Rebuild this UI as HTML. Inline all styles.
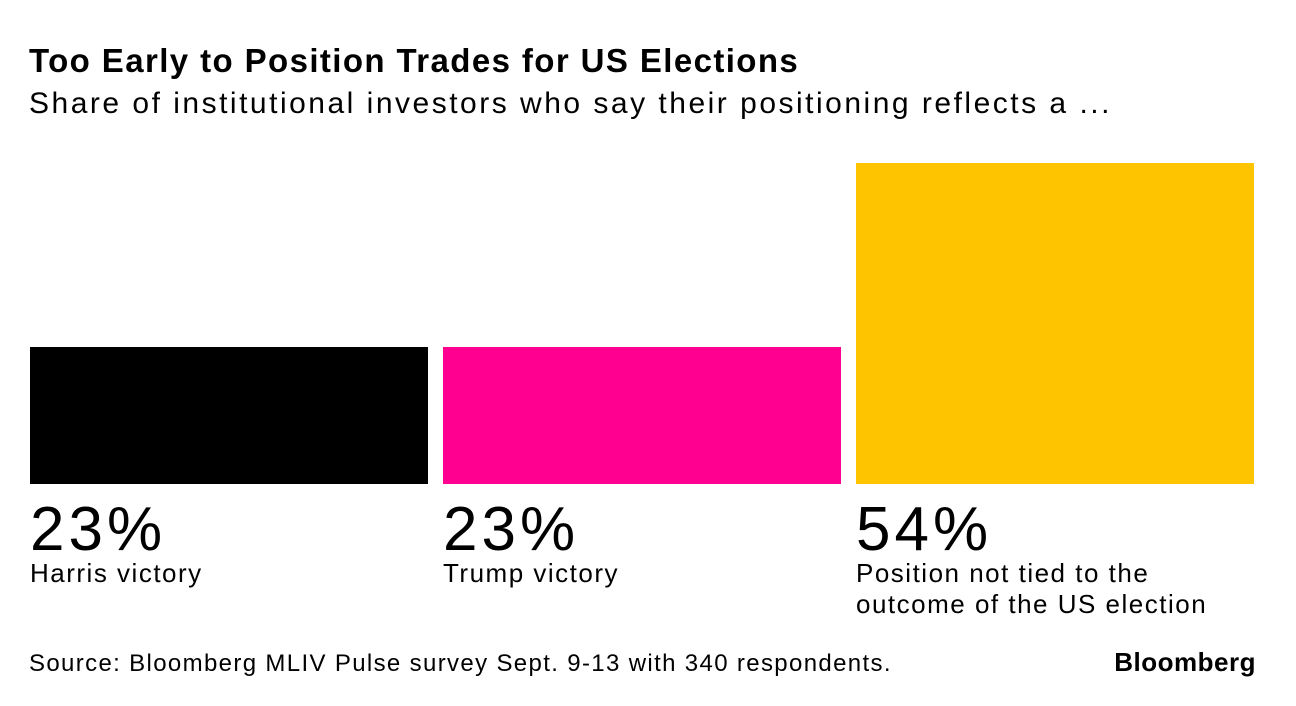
<!DOCTYPE html>
<html><head><meta charset="utf-8"><style>
html,body{margin:0;padding:0;background:#fff;}
body{width:1296px;height:706px;position:relative;overflow:hidden;font-family:"Liberation Sans",sans-serif;color:#000;}
.t{position:absolute;white-space:nowrap;}
</style></head><body>
<div class="t" style="left:29px;top:42px;font-size:33px;font-weight:bold;letter-spacing:1.4px;">Too Early to Position Trades for US Elections</div>
<div class="t" style="left:29px;top:87px;font-size:30px;letter-spacing:2.5px;">Share of institutional investors who say their positioning reflects a ...</div>
<div id="chart"></div>
<div class="t" style="left:29px;top:650px;font-size:24px;letter-spacing:1.35px;">Source: Bloomberg MLIV Pulse survey Sept. 9-13 with 340 respondents.</div>
<div class="t" style="right:40px;top:647px;font-size:26px;font-weight:bold;letter-spacing:0.5px;">Bloomberg</div>
<script>
const categories = [["Harris victory"], ["Trump victory"], ["Position not tied to the", "outcome of the US election"]];
const values = [23, 23, 54];
const valueLabels = ["23%", "23%", "54%"];
const colors = ["#000000", "#ff0090", "#ffc400"];
const chart = document.getElementById('chart');
const baseY = 484, maxH = 321, maxV = 54, x0 = 30, barW = 398, step = 413;
function yScale(v){ return v / maxV * maxH; }
values.forEach((v, i) => {
  const h = yScale(v);
  const b = document.createElement('div');
  
  
  b.style.cssText = `position:absolute;left:${x0 + i * step}px;top:${baseY - h}px;width:${barW}px;height:${h}px;background:${colors[i]};`;
  chart.appendChild(b);
  const p = document.createElement('div');
  
  
  p.className = 't';
  p.style.cssText = `left:${x0 + i * step}px;top:494px;font-size:62px;letter-spacing:4px;`;
  p.textContent = valueLabels[i];
  chart.appendChild(p);
  const c = document.createElement('div');
  
  
  c.className = 't';
  c.style.cssText = `left:${x0 + i * step}px;top:558px;font-size:26px;line-height:31px;letter-spacing:1.5px;`;
  c.innerHTML = categories[i].join('<br>');
  chart.appendChild(c);
});
</script>
</body></html>
